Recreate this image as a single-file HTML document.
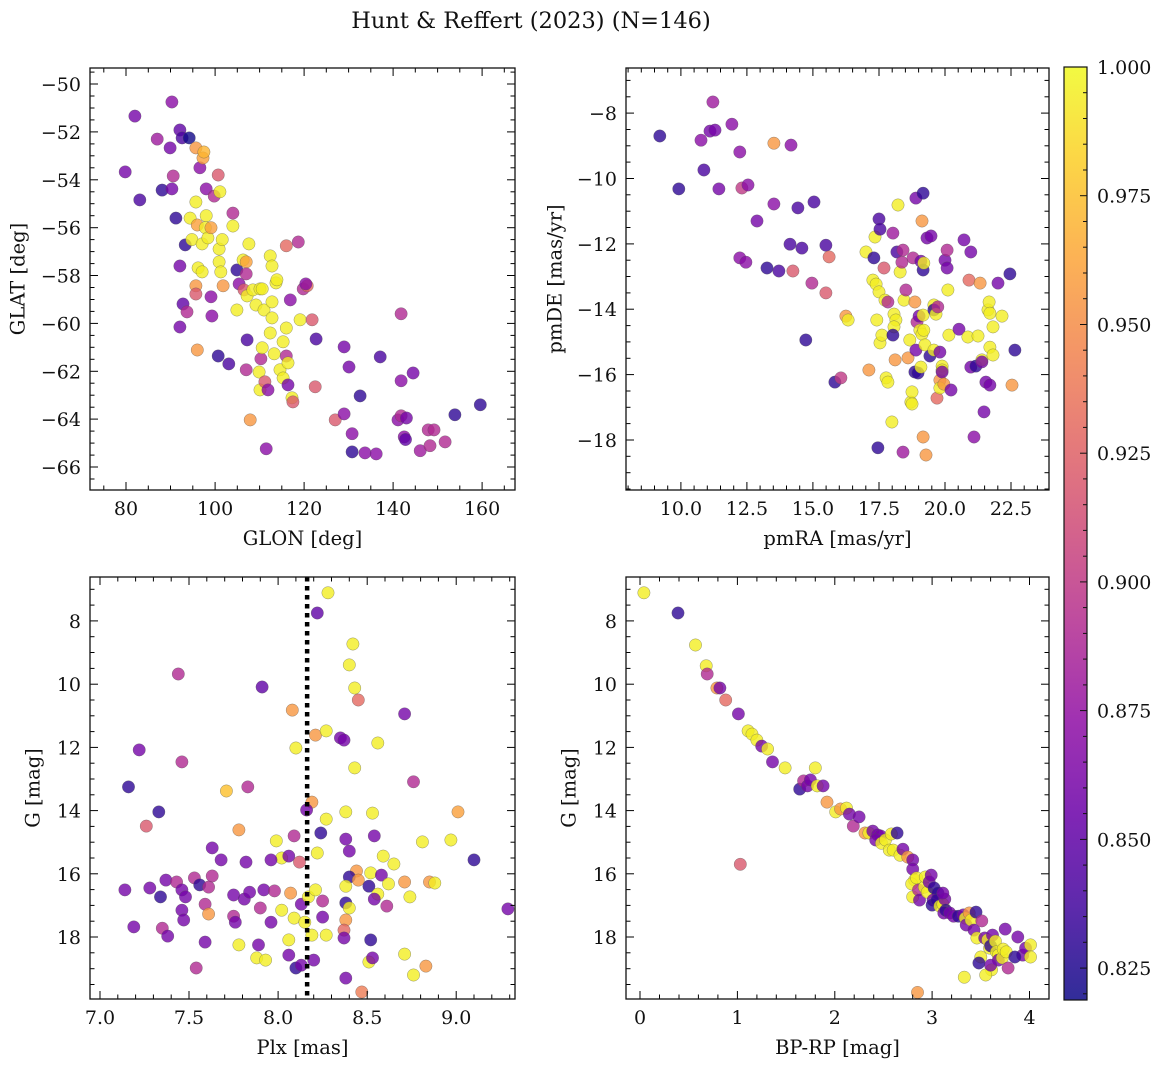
<!DOCTYPE html>
<html><head><meta charset="utf-8"><style>
html,body{margin:0;padding:0;background:#fff;}
svg{display:block;font-family:"DejaVu Serif","Liberation Serif",serif;}
</style></head><body>
<svg id="fig" width="1161" height="1067" viewBox="0 0 1161 1067" xmlns="http://www.w3.org/2000/svg">
<text x="531" y="28" text-anchor="middle" font-size="22.5" fill="#111">Hunt &amp; Reffert (2023) (N=146)</text>
</svg>
<script>
// ---- data: [x, y, membership probability] per panel ----
const glonGlat = [[79.8,-53.67,.86],[82,-51.34,.86],[83.1,-54.84,.84],[87,-52.3,.88],[88.1,-54.43,.83],[89.9,-52.67,.86],[90.3,-50.75,.87],[90.3,-54.38,.86],[90.6,-53.84,.89],[92.1,-51.92,.85],[92.6,-52.25,.84],[94.2,-52.25,.82],[91.2,-55.6,.83],[92.1,-57.6,.86],[93.3,-56.72,.83],[92.8,-59.19,.85],[92.1,-60.15,.86],[93.7,-59.52,.89],[94.4,-55.6,.995],[94.8,-56.5,.995],[95.7,-52.67,.955],[95.7,-54.93,.995],[96,-55.89,.96],[96.2,-57.68,.995],[95.7,-58.43,.955],[95.7,-58.77,.92],[96,-61.11,.955],[96.6,-53.5,.87],[97.3,-53.09,.96],[97.5,-52.84,.97],[97.1,-56.68,.995],[97.1,-57.85,.995],[98,-55.5,.995],[97.8,-56,.995],[98.4,-56.43,.995],[98,-54.38,.87],[99.1,-56,.96],[99.1,-58.89,.87],[99.3,-59.69,.87],[100.7,-61.36,.83],[99.8,-54.68,.89],[100.7,-53.8,.92],[101.1,-54.5,.995],[100.9,-57.43,.995],[100.9,-56.89,.995],[101.6,-56.5,.995],[104,-55.39,.89],[101.8,-58.43,.955],[101.3,-57.85,.995],[103.1,-61.69,.84],[104,-55.93,.995],[104.9,-57.77,.83],[104.9,-59.44,.995],[105.4,-58.35,.87],[106.3,-57.35,.995],[106.5,-58.6,.92],[107,-57.43,.96],[107,-57.93,.89],[107.2,-58.85,.995],[107,-61.94,.89],[107.2,-60.69,.84],[107.6,-56.68,.995],[107.9,-64.03,.955],[108.5,-58.6,.995],[109.2,-59.23,.995],[110.1,-58.56,.995],[109.9,-62.03,.995],[110.1,-62.78,.995],[110.3,-61.48,.89],[110.6,-61.02,.995],[111,-59.44,.995],[110.6,-58.56,.995],[111.2,-62.44,.92],[111.5,-65.24,.87],[111.9,-62.78,.87],[112.4,-57.18,.995],[112.4,-60.4,.995],[112.8,-59.77,.995],[112.8,-59.1,.995],[113.3,-61.27,.995],[112.8,-57.6,.995],[113.7,-58.31,.995],[113.9,-58.18,.995],[114.6,-61.94,.995],[115.3,-60.77,.995],[115.3,-62.28,.995],[116,-60.19,.995],[116,-61.36,.89],[116,-56.76,.93],[116.4,-61.65,.995],[116.4,-62.57,.86],[116.9,-59.02,.87],[117.3,-63.11,.995],[117.5,-63.28,.92],[118.7,-56.6,.89],[119.1,-59.85,.995],[119.8,-58.56,.89],[120.7,-58.43,.93],[120.4,-58.35,.87],[121.8,-59.85,.92],[122.7,-60.65,.84],[122.5,-62.65,.92],[127,-64.03,.92],[129,-63.78,.87],[129,-60.98,.86],[130.1,-61.82,.86],[130.8,-64.61,.87],[130.8,-65.37,.83],[132.6,-63.03,.83],[133.7,-65.41,.87],[136.2,-65.45,.87],[137.1,-61.4,.84],[141.1,-64.03,.87],[141.8,-62.4,.87],[141.8,-63.86,.89],[141.8,-59.6,.89],[142.5,-64.74,.87],[144.5,-62.07,.86],[146.1,-65.32,.88],[147.9,-64.45,.89],[149.2,-64.45,.89],[148.3,-65.11,.89],[151.7,-64.95,.89],[153.9,-63.82,.83],[159.6,-63.4,.83],[143,-63.95,.86],[142.8,-64.85,.85]];

const pmraPmde = [[9.2,-8.7,.83],[9.92,-10.32,.83],[10.76,-8.83,.87],[10.87,-9.74,.84],[11.1,-8.55,.86],[11.21,-7.66,.88],[11.29,-8.52,.86],[11.44,-10.32,.86],[11.93,-8.34,.87],[12.23,-9.19,.87],[12.31,-10.29,.9],[12.54,-10.2,.87],[12.23,-12.43,.87],[12.46,-12.56,.87],[12.88,-11.3,.86],[13.26,-12.74,.83],[13.52,-10.78,.87],[13.52,-8.92,.955],[13.71,-12.83,.84],[14.13,-12.01,.84],[14.17,-8.98,.87],[14.24,-12.83,.92],[14.43,-10.9,.84],[14.58,-12.13,.84],[14.73,-14.94,.83],[14.96,-13.2,.89],[15.04,-10.72,.84],[15.49,-12.04,.84],[15.49,-13.5,.92],[15.61,-12.4,.93],[15.83,-16.23,.83],[16.06,-16.1,.9],[16.25,-14.21,.955],[16.33,-14.33,.995],[17.01,-12.25,.995],[17.12,-15.86,.955],[17.27,-13.11,.995],[17.31,-12.43,.83],[17.35,-11.79,.995],[17.42,-14.33,.995],[17.39,-13.23,.995],[17.5,-13.47,.995],[17.46,-18.24,.83],[17.5,-11.24,.84],[17.54,-11.55,.84],[17.54,-15.03,.995],[17.61,-14.79,.995],[17.73,-13.72,.995],[17.69,-12.74,.92],[17.77,-16.1,.995],[17.84,-16.23,.995],[17.84,-13.78,.89],[18.03,-11.67,.88],[17.99,-17.45,.995],[18.07,-14.15,.995],[18.14,-14.33,.995],[18.07,-14.54,.995],[18.03,-14.79,.83],[18.11,-15.55,.955],[18.18,-12.25,.84],[18.22,-10.81,.995],[18.3,-12.86,.995],[18.37,-12.56,.89],[18.45,-13.72,.995],[18.52,-13.41,.89],[18.41,-18.37,.88],[18.41,-12.19,.89],[18.67,-14.94,.995],[18.6,-15.49,.955],[18.71,-16.84,.995],[18.75,-16.53,.995],[18.75,-16.9,.995],[18.79,-12.43,.89],[18.86,-13.78,.955],[18.94,-14.39,.89],[18.86,-15.92,.83],[18.9,-15.25,.86],[18.98,-15.95,.83],[18.9,-10.6,.86],[19.02,-14.21,.86],[19.09,-12.53,.86],[19.17,-17.91,.955],[19.05,-14.64,.995],[19.09,-15.77,.995],[19.13,-14.76,.995],[19.17,-14.18,.995],[19.17,-12.8,.83],[19.13,-11.3,.955],[19.17,-10.45,.83],[19.2,-12.59,.995],[19.24,-15.09,.995],[19.2,-14.64,.995],[19.28,-18.46,.955],[19.32,-11.82,.86],[19.47,-11.76,.86],[19.43,-15.43,.83],[19.58,-15.25,.995],[19.58,-13.87,.995],[19.58,-14.02,.83],[19.66,-14.15,.995],[19.7,-16.72,.93],[19.73,-13.93,.89],[19.81,-15.31,.86],[19.81,-16.17,.955],[19.81,-16.41,.995],[19.89,-15.74,.995],[19.89,-15.86,.995],[19.89,-15.92,.86],[19.96,-16.29,.955],[20,-12.5,.86],[20.08,-12.74,.86],[20.11,-13.41,.995],[20.08,-12.19,.89],[20.15,-14.79,.995],[20.23,-16.47,.86],[20.53,-14.61,.86],[20.72,-11.88,.86],[20.87,-14.85,.995],[20.91,-13.11,.93],[20.98,-12.25,.86],[20.98,-15.77,.86],[21.1,-17.91,.87],[21.17,-15.74,.83],[21.25,-14.82,.995],[21.33,-13.2,.955],[21.4,-15.55,.995],[21.48,-17.14,.86],[21.4,-15.61,.86],[21.55,-16.23,.86],[21.63,-14.02,.995],[21.67,-13.78,.995],[21.7,-14.12,.995],[21.7,-15.16,.995],[21.7,-16.32,.86],[21.82,-14.54,.995],[21.82,-15.4,.995],[22.01,-13.2,.86],[22.16,-14.21,.995],[22.46,-12.92,.83],[22.54,-16.32,.955],[22.65,-15.25,.83]];

const plxG = [[8.28,7.11,.995],[8.22,7.75,.85],[8.42,8.73,.995],[8.4,9.39,.995],[8.43,10.12,.995],[8.45,10.5,.93],[7.44,9.68,.89],[7.91,10.09,.85],[8.08,10.82,.955],[8.71,10.94,.86],[7.22,12.08,.86],[7.46,12.46,.89],[8.1,12.02,.995],[8.21,11.61,.955],[8.27,11.48,.995],[8.35,11.7,.86],[8.37,11.77,.86],[8.56,11.86,.995],[8.43,12.65,.995],[8.76,13.09,.89],[7.16,13.25,.83],[7.33,14.04,.83],[7.26,14.49,.92],[7.71,13.38,.975],[7.83,13.25,.89],[8.19,13.73,.955],[8.27,14.27,.995],[8.38,14.04,.995],[8.53,14.08,.995],[9.01,14.04,.96],[7.78,14.61,.955],[7.99,14.96,.995],[8.02,15.5,.995],[8.09,14.8,.89],[8.16,13.98,.86],[8.24,14.71,.83],[8.38,14.9,.86],[8.4,15.28,.86],[8.54,14.8,.86],[8.59,15.44,.995],[8.65,15.69,.995],[8.81,14.99,.995],[8.97,14.93,.995],[9.1,15.56,.83],[8.22,15.34,.995],[7.63,15.18,.86],[7.68,15.56,.86],[7.82,15.63,.86],[7.96,15.56,.86],[8.06,15.44,.86],[8.12,15.63,.92],[7.63,16.07,.89],[8.44,15.91,.955],[8.52,15.97,.995],[8.58,16.04,.86],[7.14,16.51,.86],[7.28,16.45,.86],[7.37,16.2,.86],[7.43,16.26,.89],[7.53,16.13,.89],[7.56,16.35,.83],[7.61,16.42,.89],[7.34,16.73,.83],[7.46,16.51,.86],[7.48,16.73,.86],[7.46,17.15,.86],[7.59,16.96,.89],[7.47,17.46,.86],[7.35,17.72,.89],[7.75,16.67,.86],[7.81,16.8,.86],[7.84,16.58,.86],[7.92,16.51,.86],[7.9,17.08,.89],[7.98,16.54,.89],[8.02,17.15,.995],[8.07,16.61,.955],[8.13,16.96,.86],[8.17,16.73,.995],[8.21,16.51,.995],[8.25,16.86,.89],[8.4,16.1,.83],[8.38,16.39,.995],[8.45,16.2,.955],[8.51,16.39,.83],[8.56,16.64,.995],[8.54,16.8,.86],[8.62,16.32,.995],[8.71,16.26,.955],[8.74,16.73,.995],[8.85,16.26,.955],[8.88,16.29,.995],[8.38,16.92,.83],[8.4,17.08,.995],[8.61,17.02,.89],[8.38,17.46,.955],[8.37,17.78,.93],[7.75,17.34,.89],[7.76,17.53,.86],[7.96,17.53,.86],[8.09,17.4,.995],[8.15,17.53,.995],[8.25,17.37,.86],[7.61,17.27,.955],[7.78,18.25,.995],[7.89,18.25,.86],[7.88,18.66,.995],[7.93,18.73,.995],[8.06,18.09,.995],[8.19,17.94,.995],[8.27,17.94,.995],[8.06,18.57,.86],[8.1,18.98,.83],[8.13,18.89,.86],[8.2,18.73,.86],[8.37,18.03,.86],[8.52,18.09,.83],[8.51,18.79,.995],[8.53,18.66,.86],[8.38,19.3,.86],[8.47,19.74,.94],[8.71,18.54,.995],[8.76,19.2,.995],[8.83,18.92,.955],[7.38,17.97,.86],[7.59,18.16,.86],[7.54,18.98,.89],[7.19,17.68,.86],[9.29,17.11,.86]];

const bprpG = [[0.04,7.11,.995],[0.39,7.75,.83],[0.57,8.76,.995],[0.68,9.42,.995],[0.69,9.68,.89],[0.79,10.12,.955],[0.82,10.12,.86],[0.88,10.5,.93],[1.01,10.94,.86],[1.03,15.7,.92],[1.11,11.48,.995],[1.15,11.58,.995],[1.2,11.77,.995],[1.25,11.96,.86],[1.31,12.05,.995],[1.36,12.46,.86],[1.49,12.65,.995],[1.64,13.32,.83],[1.68,13.06,.89],[1.72,13.22,.86],[1.75,13.03,.86],[1.8,12.65,.995],[1.82,13.22,.995],[1.88,13.22,.86],[1.92,13.73,.955],[2.01,14.04,.995],[2.06,13.95,.955],[2.12,13.92,.995],[2.15,14.11,.86],[2.19,14.49,.89],[2.25,14.2,.86],[2.31,14.71,.955],[2.35,14.71,.995],[2.39,14.65,.86],[2.44,14.77,.86],[2.47,14.8,.86],[2.42,14.93,.86],[2.48,15.03,.995],[2.52,14.93,.995],[2.58,14.74,.995],[2.56,15.25,.995],[2.6,15.25,.995],[2.64,14.71,.83],[2.67,15.41,.995],[2.7,15.22,.86],[2.75,15.47,.955],[2.8,15.56,.86],[2.8,15.85,.86],[2.82,16.2,.995],[2.79,16.32,.995],[2.8,16.73,.995],[2.84,16.13,.995],[2.86,16.51,.89],[2.87,16.83,.86],[2.92,16.42,.995],[2.93,16.1,.995],[2.95,16.58,.995],[2.97,16.26,.86],[2.99,16.04,.86],[3.02,16.45,.83],[3.06,16.61,.83],[3.01,16.83,.86],[3,16.99,.83],[3.05,16.83,.83],[3.08,17.02,.995],[3.11,16.96,.995],[3.13,16.8,.86],[3.11,16.61,.86],[3.12,17.24,.86],[3.14,17.15,.83],[3.18,17.24,.86],[3.22,17.34,.86],[3.27,17.34,.83],[3.32,17.3,.86],[3.34,17.4,.995],[3.35,17.62,.86],[3.38,17.24,.955],[3.4,17.46,.995],[3.45,17.21,.83],[3.43,17.78,.86],[3.46,18.03,.995],[3.51,17.49,.89],[3.54,18.03,.86],[3.57,18.09,.995],[3.59,18.35,.995],[3.6,18.28,.83],[3.62,17.94,.86],[3.65,18.13,.995],[3.66,18.47,.995],[3.68,18.57,.995],[3.68,18.73,.86],[3.72,18.66,.995],[3.73,18.38,.995],[3.76,18.47,.995],[3.75,17.75,.86],[3.78,18.98,.89],[3.88,18,.86],[3.93,18.57,.86],[3.96,18.35,.86],[4.01,18.25,.995],[4.01,18.63,.995],[3.85,18.63,.83],[3.61,19.04,.995],[3.55,19.2,.995],[3.33,19.27,.995],[3.5,18.63,.995],[3.6,18.89,.86],[3.48,18.82,.83],[2.85,19.75,.955]];

const cbTicks = [0.825,0.85,0.875,0.9,0.925,0.95,0.975,1.0];
const cRange = [0.8188, 1.0];
const plxLine = 8.163;

const NS = 'http://www.w3.org/2000/svg';
const svg = document.getElementById('fig');
function mk(tag, attrs, parent){ const e=document.createElementNS(NS,tag); for(const k in attrs) e.setAttribute(k,attrs[k]); (parent||svg).appendChild(e); return e; }

const plasma = ['#0d0887','#41049d','#6a00a8','#8f0da4','#b12a90','#cc4778','#e16462','#f2844b','#fca636','#fcce25','#f0f921'];
function hex(h){return [parseInt(h.slice(1,3),16),parseInt(h.slice(3,5),16),parseInt(h.slice(5,7),16)];}
function cmap(t){ t=Math.max(0,Math.min(1,t))*10; const i=Math.min(9,Math.floor(t)); const f=t-i; const a=hex(plasma[i]), b=hex(plasma[i+1]); return 'rgb('+a.map((v,k)=>Math.round(v+(b[k]-v)*f)).join(',')+')'; }
function cval(c){ return cmap((c-cRange[0])/(cRange[1]-cRange[0])); }
function fmt(v,d){ const s=v.toFixed(d); return v<0 ? '\u2212'+s.slice(1) : s; }

const panels = [
 {name:'glon-glat', data:glonGlat, x0:90,x1:515,y0:68,y1:490, xd:[71.9,167.4], yd:[-66.96,-49.33], yInv:false,
  xt:[80,160,20], xm:5, yt:[-66,-50,2], ym:0.5, xdec:0, ydec:0, xl:'GLON [deg]', yl:'GLAT [deg]', ylx:18},
 {name:'pmra-pmde', data:pmraPmde, x0:626,x1:1049,y0:68,y1:490, xd:[7.92,23.94], yd:[-19.53,-6.62], yInv:false,
  xt:[10,22.5,2.5], xm:0.5, yt:[-18,-8,2], ym:0.5, xdec:1, ydec:0, xl:'pmRA [mas/yr]', yl:'pmDE [mas/yr]', ylx:555},
 {name:'plx-g', data:plxG, x0:90,x1:515,y0:577,y1:999, xd:[6.944,9.33], yd:[6.61,19.96], yInv:true,
  xt:[7,9,0.5], xm:0.1, yt:[8,18,2], ym:0.5, xdec:1, ydec:0, xl:'Plx [mas]', yl:'G [mag]', ylx:33},
 {name:'bprp-g', data:bprpG, x0:626,x1:1049,y0:577,y1:999, xd:[-0.144,4.2], yd:[6.61,19.96], yInv:true,
  xt:[0,4,1], xm:0.2, yt:[8,18,2], ym:0.5, xdec:0, ydec:0, xl:'BP-RP [mag]', yl:'G [mag]', ylx:569}
];

panels.forEach(p=>{
  const g = mk('g',{});
  
  
  const sx = v => p.x0 + (v-p.xd[0])/(p.xd[1]-p.xd[0])*(p.x1-p.x0);
  const sy = v => p.yInv ? p.y0 + (v-p.yd[0])/(p.yd[1]-p.yd[0])*(p.y1-p.y0)
                         : p.y1 - (v-p.yd[0])/(p.yd[1]-p.yd[0])*(p.y1-p.y0);
  const clipId = 'clip-'+p.name;
  const cp = mk('clipPath',{id:clipId}, g);
  mk('rect',{x:p.x0,y:p.y0,width:p.x1-p.x0,height:p.y1-p.y0}, cp);
  const pts = mk('g',{'clip-path':'url(#'+clipId+')'}, g);
  
  
  p.data.forEach(d=>{
    const c = mk('circle',{cx:sx(d[0]).toFixed(1), cy:sy(d[1]).toFixed(1), r:6.2, fill:cval(d[2]), 'fill-opacity':0.8, stroke:'#555', 'stroke-width':0.5, 'stroke-opacity':0.6}, pts);
    
    
  });
  if(p.name==='plx-g'){
    const l = mk('line',{x1:sx(plxLine),x2:sx(plxLine),y1:p.y0,y2:p.y1,stroke:'#000','stroke-width':4.5,'stroke-dasharray':'4.5,4.5'}, g);
    
    
  }
  const tk = mk('g',{stroke:'#000','stroke-width':1}, g);
  const eps=1e-9;
  for(let v=Math.ceil((p.xd[0])/p.xm)*p.xm; v<=p.xd[1]; v+=p.xm){
    const X=sx(v).toFixed(1); const major = Math.abs(v/p.xt[2]-Math.round(v/p.xt[2]))<1e-6;
    const L = major?8:4.5;
    mk('line',{x1:X,x2:X,y1:p.y1,y2:p.y1-L},tk); mk('line',{x1:X,x2:X,y1:p.y0,y2:p.y0+L},tk);
  }
  for(let v=Math.ceil((p.yd[0])/p.ym)*p.ym; v<=p.yd[1]; v+=p.ym){
    const Y=sy(v).toFixed(1); const major = Math.abs(v/p.yt[2]-Math.round(v/p.yt[2]))<1e-6;
    const L = major?8:4.5;
    mk('line',{x1:p.x0,x2:p.x0+L,y1:Y,y2:Y},tk); mk('line',{x1:p.x1,x2:p.x1-L,y1:Y,y2:Y},tk);
  }
  for(let v=p.xt[0]; v<=p.xt[1]+eps; v+=p.xt[2]){
    const t = mk('text',{x:sx(v).toFixed(1), y:p.y1+25, 'text-anchor':'middle','font-size':19, fill:'#111'}, g);
    t.textContent = fmt(v,p.xdec);
    
    
  }
  for(let v=p.yt[0]; v<=p.yt[1]+eps; v+=p.yt[2]){
    const t = mk('text',{x:p.x0-9, y:(sy(v)+7).toFixed(1), 'text-anchor':'end','font-size':19, fill:'#111'}, g);
    t.textContent = fmt(v,p.ydec);
    
    
  }
  const fr = mk('rect',{x:p.x0,y:p.y0,width:p.x1-p.x0,height:p.y1-p.y0,fill:'none',stroke:'#111','stroke-width':1.3}, g);
  
  
  const xl = mk('text',{x:(p.x0+p.x1)/2, y:p.y1+55, 'text-anchor':'middle','font-size':19.5, fill:'#111'}, g);
  xl.textContent = p.xl;
  
  
  const yc=(p.y0+p.y1)/2;
  const yl = mk('text',{x:p.ylx, y:yc, 'text-anchor':'middle','font-size':19.5, fill:'#111', transform:'rotate(-90 '+p.ylx+' '+yc+')', dy:'6.5'}, g);
  yl.textContent = p.yl;
  
  
});

// colorbar
const cb = mk('g',{});


const defs = mk('defs',{}, cb);
const lg = mk('linearGradient',{id:'cbgrad',x1:0,y1:1,x2:0,y2:0}, defs);
for(let i=0;i<=20;i++){ mk('stop',{offset:(i/20),'stop-color':cmap(i/20),'stop-opacity':0.85}, lg); }
const cbx0=1064, cbx1=1087, cby0=67, cby1=1000;
mk('rect',{x:cbx0,y:cby0,width:cbx1-cbx0,height:cby1-cby0,fill:'url(#cbgrad)',stroke:'#111','stroke-width':1.2}, cb);
const cy = v => cby1 - (v-cRange[0])/(cRange[1]-cRange[0])*(cby1-cby0);
for(let v=0.82; v<=1.0001; v+=0.005){
  const Y=cy(v).toFixed(1);
  const major = Math.abs(v/0.025-Math.round(v/0.025))<1e-6;
  mk('line',{x1:cbx1,x2:cbx1-(major?7:4),y1:Y,y2:Y,stroke:'#111','stroke-width':1}, cb);
}
cbTicks.forEach(v=>{
  const Y=cy(v).toFixed(1);
  const t = mk('text',{x:cbx1+10, y:(+Y+7).toFixed(1), 'font-size':19, fill:'#111'}, cb);
  t.textContent = v.toFixed(3);
  
  
});
</script>
</body></html>
